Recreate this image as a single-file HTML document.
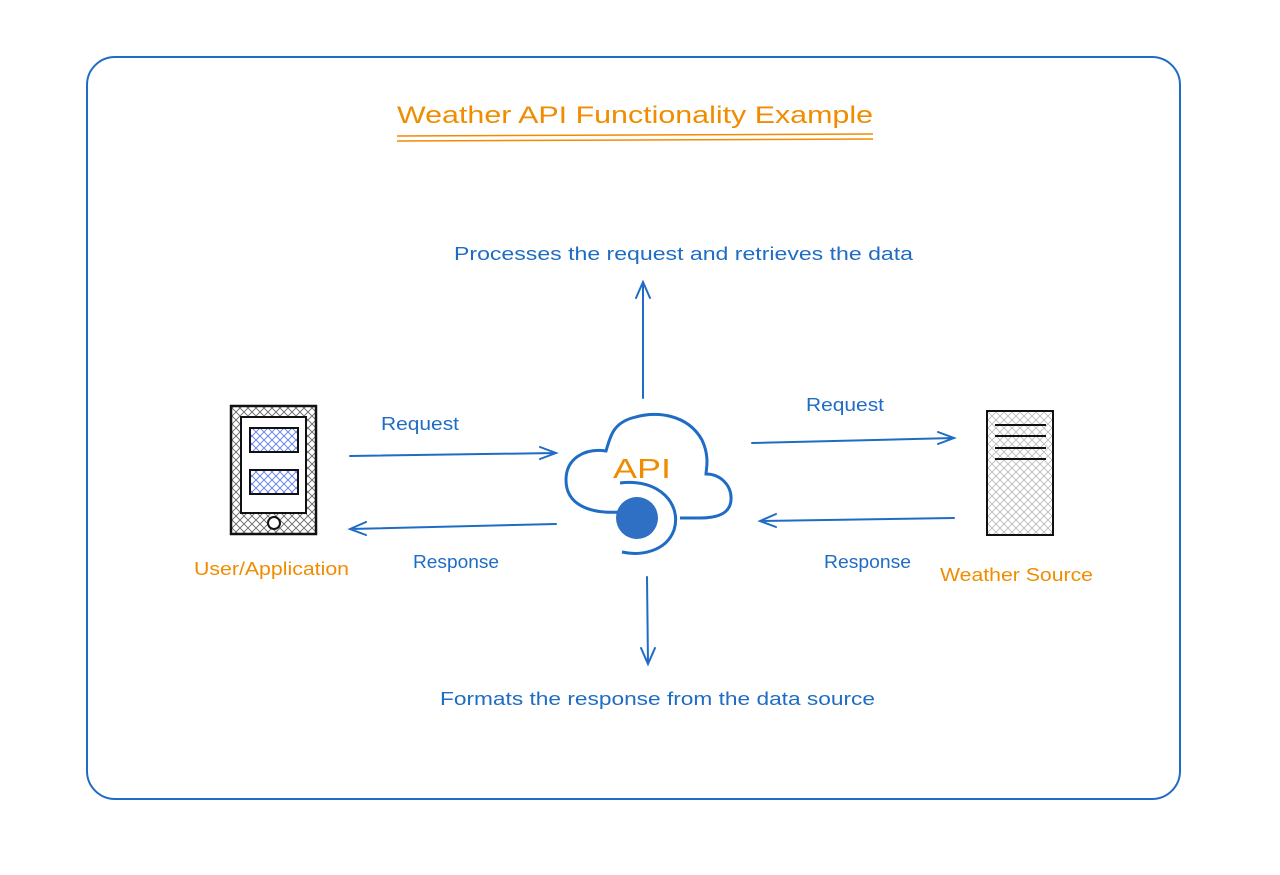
<!DOCTYPE html>
<html><head><meta charset="utf-8"><style>html,body{margin:0;padding:0;background:#fff}svg{display:block}</style></head>
<body>
<svg width="1280" height="875" viewBox="0 0 1280 875" xmlns="http://www.w3.org/2000/svg" font-family="Liberation Sans, sans-serif">
<defs>
<pattern id="hx" width="8" height="8" patternUnits="userSpaceOnUse"><path d="M0 0L8 8M8 0L0 8" stroke="#666" stroke-width="0.9"/></pattern>
<pattern id="hb" width="8" height="8" patternUnits="userSpaceOnUse"><path d="M0 0L8 8M8 0L0 8" stroke="#5b7cf0" stroke-width="0.9"/></pattern>
<pattern id="hg" width="8" height="8" patternUnits="userSpaceOnUse"><path d="M0 0L8 8M8 0L0 8" stroke="#bbb" stroke-width="0.9"/></pattern>
</defs>
<rect x="87" y="57" width="1093" height="742" rx="28" fill="none" stroke="#1f6cc4" stroke-width="2"/>
<text x="397" y="123" fill="#f08c00" font-size="24" textLength="476" lengthAdjust="spacingAndGlyphs">Weather API Functionality Example</text>
<path d="M397 136L873 134M397 141L873 139" stroke="#f08c00" stroke-width="1.5"/>
<g fill="#1f6cc4" font-size="18">
<text x="454" y="260" textLength="459" lengthAdjust="spacingAndGlyphs">Processes the request and retrieves the data</text>
<text x="440" y="705" textLength="435" lengthAdjust="spacingAndGlyphs">Formats the response from the data source</text>
<text x="381" y="430" textLength="78" lengthAdjust="spacingAndGlyphs">Request</text>
<text x="806" y="411" textLength="78" lengthAdjust="spacingAndGlyphs">Request</text>
<text x="413" y="568" textLength="86" lengthAdjust="spacingAndGlyphs">Response</text>
<text x="824" y="568" textLength="87" lengthAdjust="spacingAndGlyphs">Response</text>
</g>
<g fill="#f08c00" font-size="18">
<text x="194" y="575" textLength="155" lengthAdjust="spacingAndGlyphs">User/Application</text>
<text x="940" y="581" textLength="153" lengthAdjust="spacingAndGlyphs">Weather Source</text>
</g>
<g stroke="#1f6cc4" stroke-width="2" fill="none" stroke-linecap="round">
<path d="M350 456L556 453M540 447L556 453L540 459"/>
<path d="M556 524L350 529M366 522L350 529L366 535"/>
<path d="M752 443L954 438M938 432L954 438L938 444"/>
<path d="M954 518L760 521M776 514L760 521L776 527"/>
<path d="M643 398L643 282M636 298L643 282L650 298"/>
<path d="M647 577L648 664M641 648L648 664L655 648"/>
</g>
<path d="M620 512C590 514 566 505 566 480C566 458 585 448 606 451C610 438 612 424 632 418C658 410 688 415 702 440C710 457 706 470 706 474C720 474 732 485 731 500C730 515 715 518 700 518L680 518" fill="none" stroke="#1f6cc4" stroke-width="3"/>
<path d="M620 483C660 478 682 505 674 530C666 552 640 556 622 552" fill="none" stroke="#1f6cc4" stroke-width="3"/>
<circle cx="637" cy="518" r="21" fill="#2f6fc4"/>
<text x="613" y="478" fill="#f08c00" font-size="28" textLength="58" lengthAdjust="spacingAndGlyphs">API</text>
<rect x="231" y="406" width="85" height="128" fill="url(#hx)" stroke="#111" stroke-width="2.5"/>
<rect x="241" y="417" width="65" height="96" fill="#fff" stroke="#111" stroke-width="2"/>
<rect x="250" y="428" width="48" height="24" fill="url(#hb)" stroke="#111" stroke-width="2"/>
<rect x="250" y="470" width="48" height="24" fill="url(#hb)" stroke="#111" stroke-width="2"/>
<circle cx="274" cy="523" r="6" fill="#fff" stroke="#111" stroke-width="2"/>
<rect x="987" y="411" width="66" height="124" fill="url(#hg)" stroke="#111" stroke-width="2"/>
<path d="M995 425H1046M995 436H1046M995 448H1046M995 459H1046" stroke="#111" stroke-width="2"/>
</svg>
</body></html>
